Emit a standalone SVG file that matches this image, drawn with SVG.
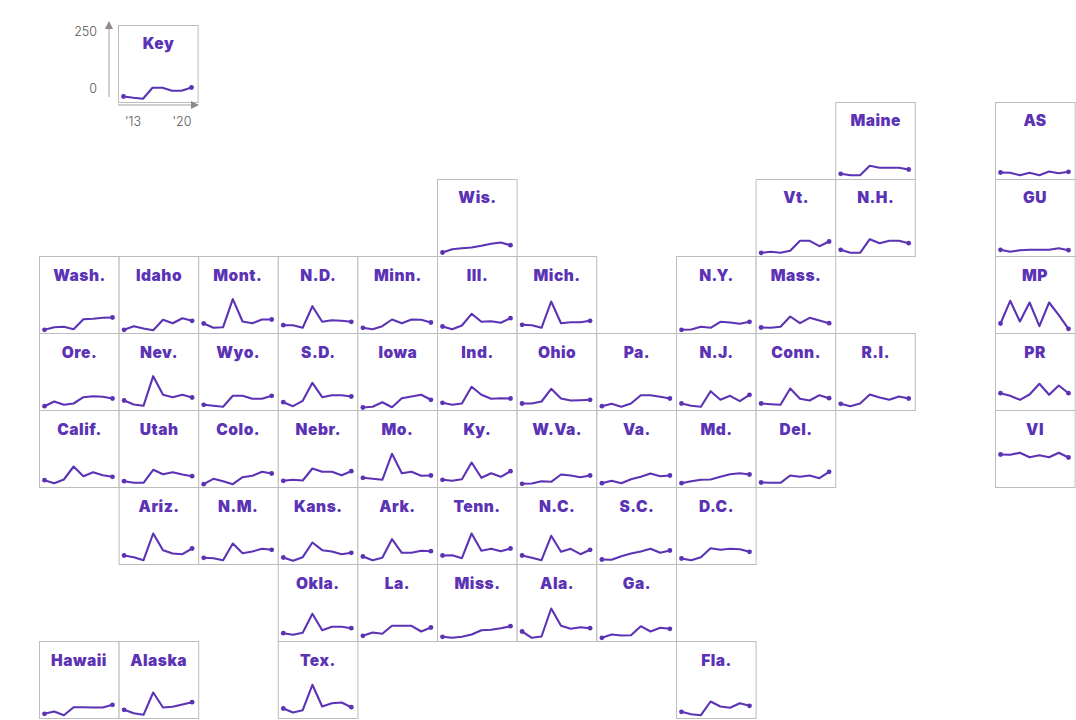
<svg xmlns="http://www.w3.org/2000/svg" width="1076" height="720" viewBox="0 0 1076 720">
<style>
text{font-family:Inter,"Liberation Sans",sans-serif}
.cell{fill:#fff;stroke:#bdbdbd;stroke-width:1}
.name{font-size:15.5px;font-weight:900;letter-spacing:.5px;fill:#5b33b4;text-anchor:middle}
.line{fill:none;stroke:#5b33b4;stroke-width:2.1;stroke-linejoin:round;marker-start:url(#dot);marker-end:url(#dot)}
.axis{fill:none;stroke:#a0a0a0;stroke-width:1;}
.tick{font-size:12.5px;font-weight:300;fill:#555}
</style>
<defs>
<marker id="dot" markerUnits="userSpaceOnUse" markerWidth="6" markerHeight="6" refX="3" refY="3"><circle cx="3" cy="3" r="2.4" fill="#5b33b4"/></marker>
<marker id="arr" markerUnits="userSpaceOnUse" markerWidth="9" markerHeight="8" refX="7" refY="4" orient="auto"><path d="M0 0L8 4L0 8Z" fill="#8c8c8c"/></marker>
<symbol id="c" overflow="visible"><rect class="cell" width="79.6" height="77"/></symbol>
</defs>
<g id="key" transform="translate(118.5 25.5)"><use href="#c"/><text class="name" x="40" y="23.5">Key</text><polyline class="line" points="5,71 15,72.3 24.5,73.3 34,62.3 44,62.3 53.5,65.3 63,65.3 73,62"/></g>
<g id="key-axes"><path class="axis" d="M109 97V22" marker-end="url(#arr)"/><path class="axis" d="M118 105H198" marker-end="url(#arr)"/>
<text class="tick" x="97" y="36" text-anchor="end">250</text><text class="tick" x="97" y="93" text-anchor="end">0</text><text class="tick" x="133" y="126" text-anchor="middle">'13</text><text class="tick" x="182" y="126" text-anchor="middle">'20</text></g>
<g id="AS" transform="translate(995.5 102.5)"><use href="#c"/><text class="name" x="39.5" y="23.5">AS</text><polyline class="line" points="5,70 14.7,70.3 24.4,72.7 34.1,70.3 43.9,72.7 53.6,69 63.3,70.7 73,69.3"/></g>
<g id="Maine" transform="translate(835.7 102.5)"><use href="#c"/><text class="name" x="40" y="23.5">Maine</text><polyline class="line" points="5,71.3 14.7,72.7 24.4,72.7 34.1,63.3 43.9,65.3 53.6,65.3 63.3,65.3 73,67"/></g>
<g id="Wis" transform="translate(437.5 179.5)"><use href="#c"/><text class="name" x="40" y="23.5">Wis.</text><polyline class="line" points="5,73 14.7,69.7 24.4,68.7 34.1,68 43.9,66.3 53.6,64.3 63.3,63 73,65.7"/></g>
<g id="Vt" transform="translate(756.1 179.5)"><use href="#c"/><text class="name" x="40" y="23.5">Vt.</text><polyline class="line" points="5,73.3 14.7,72.3 24.4,73.3 34.1,71.3 43.9,61.3 53.6,61.3 63.3,66.7 73,62"/></g>
<g id="NH" transform="translate(835.7 179.5)"><use href="#c"/><text class="name" x="40" y="23.5">N.H.</text><polyline class="line" points="5,70.3 14.7,73.3 24.4,73.3 34.1,59.7 43.9,63.7 53.6,61.3 63.3,61.3 73,63.7"/></g>
<g id="GU" transform="translate(995.5 179.5)"><use href="#c"/><text class="name" x="39.5" y="23.5">GU</text><polyline class="line" points="5,70.3 14.7,72.3 24.4,70.7 34.1,70.3 43.9,70.3 53.6,70.3 63.3,68.7 73,70.7"/></g>
<g id="Wash" transform="translate(39.5 256.5)"><use href="#c"/><text class="name" x="40" y="24">Wash.</text><polyline class="line" points="5,73.3 14.7,70.7 24.4,70.3 34.1,72.7 43.9,62.7 53.6,62.3 63.3,61.3 73,61"/></g>
<g id="Idaho" transform="translate(119.1 256.5)"><use href="#c"/><text class="name" x="40" y="24">Idaho</text><polyline class="line" points="5,73.3 14.7,69.7 24.4,72 34.1,73.7 43.9,63.3 53.6,66.7 63.3,61.7 73,64.3"/></g>
<g id="Mont" transform="translate(198.7 256.5)"><use href="#c"/><text class="name" x="39" y="24">Mont.</text><polyline class="line" points="5,67 14.7,71.3 24.4,70.7 34.1,42.7 43.9,65 53.6,66.7 63.3,63 73,63"/></g>
<g id="ND" transform="translate(278.3 256.5)"><use href="#c"/><text class="name" x="40" y="24">N.D.</text><polyline class="line" points="5,68.7 14.7,68.7 24.4,71.3 34.1,49.7 43.9,65.3 53.6,63.7 63.3,64.3 73,65.3"/></g>
<g id="Minn" transform="translate(357.9 256.5)"><use href="#c"/><text class="name" x="40" y="24">Minn.</text><polyline class="line" points="5,71.3 14.7,72.7 24.4,69.7 34.1,63 43.9,66.7 53.6,63 63.3,63.3 73,66"/></g>
<g id="Ill" transform="translate(437.5 256.5)"><use href="#c"/><text class="name" x="40" y="24">Ill.</text><polyline class="line" points="5,70 14.7,72.7 24.4,69 34.1,57.3 43.9,65.3 53.6,64.7 63.3,66.3 73,61.7"/></g>
<g id="Mich" transform="translate(517.1 256.5)"><use href="#c"/><text class="name" x="40" y="24">Mich.</text><polyline class="line" points="5,68.3 14.7,68.7 24.4,71.3 34.1,45 43.9,66.7 53.6,65.7 63.3,65.7 73,64.3"/></g>
<g id="NY" transform="translate(676.5 256.5)"><use href="#c"/><text class="name" x="40" y="24">N.Y.</text><polyline class="line" points="5,73.3 14.7,73 24.4,70.3 34.1,71.3 43.9,65.3 53.6,66 63.3,67.3 73,65.3"/></g>
<g id="Mass" transform="translate(756.1 256.5)"><use href="#c"/><text class="name" x="40" y="24">Mass.</text><polyline class="line" points="5,71 14.7,71.3 24.4,70.3 34.1,60 43.9,66.7 53.6,61.3 63.3,64 73,66.7"/></g>
<g id="MP" transform="translate(995.5 256.5)"><use href="#c"/><text class="name" x="39.5" y="24">MP</text><polyline class="line" points="5,67 14.7,44.3 24.4,65 34.1,46 43.9,69.7 53.6,46 63.3,58.7 73,72.3"/></g>
<g id="Ore" transform="translate(39.5 333.5)"><use href="#c"/><text class="name" x="40" y="24">Ore.</text><polyline class="line" points="5,72.7 14.7,68 24.4,71.3 34.1,70 43.9,63.7 53.6,62.7 63.3,63.3 73,65"/></g>
<g id="Nev" transform="translate(119.1 333.5)"><use href="#c"/><text class="name" x="40" y="24">Nev.</text><polyline class="line" points="5,67 14.7,71 24.4,72.3 34.1,42.7 43.9,61.3 53.6,63.7 63.3,61.3 73,64"/></g>
<g id="Wyo" transform="translate(198.7 333.5)"><use href="#c"/><text class="name" x="39.5" y="24">Wyo.</text><polyline class="line" points="5,71.3 14.7,72.3 24.4,73.3 34.1,62.3 43.9,62.3 53.6,65.3 63.3,65.3 73,62.3"/></g>
<g id="SD" transform="translate(278.3 333.5)"><use href="#c"/><text class="name" x="40" y="24">S.D.</text><polyline class="line" points="5,68.7 14.7,72.7 24.4,67.3 34.1,49.3 43.9,63.7 53.6,61.7 63.3,61.7 73,63"/></g>
<g id="Iowa" transform="translate(357.9 333.5)"><use href="#c"/><text class="name" x="40" y="24">Iowa</text><polyline class="line" points="5,74 14.7,73.3 24.4,68.7 34.1,73.7 43.9,64.7 53.6,63 63.3,61.3 73,66.3"/></g>
<g id="Ind" transform="translate(437.5 333.5)"><use href="#c"/><text class="name" x="40" y="24">Ind.</text><polyline class="line" points="5,69.3 14.7,71.3 24.4,70 34.1,53.3 43.9,61.3 53.6,65.3 63.3,64.7 73,65"/></g>
<g id="Ohio" transform="translate(517.1 333.5)"><use href="#c"/><text class="name" x="40" y="24">Ohio</text><polyline class="line" points="5,70 14.7,70 24.4,68 34.1,55.3 43.9,65 53.6,67 63.3,66.7 73,66.3"/></g>
<g id="Pa" transform="translate(596.9 333.5)"><use href="#c"/><text class="name" x="40" y="24">Pa.</text><polyline class="line" points="5,72.7 14.7,70.3 24.4,73.3 34.1,70 43.9,61.7 53.6,61.7 63.3,63.3 73,65"/></g>
<g id="NJ" transform="translate(676.5 333.5)"><use href="#c"/><text class="name" x="40" y="24">N.J.</text><polyline class="line" points="5,70 14.7,72.3 24.4,73.3 34.1,57.7 43.9,66.3 53.6,62.3 63.3,67.7 73,61.3"/></g>
<g id="Conn" transform="translate(756.1 333.5)"><use href="#c"/><text class="name" x="40" y="24">Conn.</text><polyline class="line" points="5,70 14.7,70.7 24.4,71.3 34.1,55 43.9,65.3 53.6,67 63.3,61.7 73,64.7"/></g>
<g id="RI" transform="translate(835.7 333.5)"><use href="#c"/><text class="name" x="40" y="24">R.I.</text><polyline class="line" points="5,70.3 14.7,72.7 24.4,70 34.1,61 43.9,64 53.6,66.3 63.3,63 73,65"/></g>
<g id="PR" transform="translate(995.5 333.5)"><use href="#c"/><text class="name" x="39.5" y="24">PR</text><polyline class="line" points="5,59.7 14.7,62.3 24.4,66.3 34.1,61 43.9,50.3 53.6,61.3 63.3,52 73,59.7"/></g>
<g id="Calif" transform="translate(39.5 410.5)"><use href="#c"/><text class="name" x="40" y="24">Calif.</text><polyline class="line" points="5,69.7 14.7,72.7 24.4,69 34.1,56 43.9,65.7 53.6,61.7 63.3,64.7 73,66.3"/></g>
<g id="Utah" transform="translate(119.1 410.5)"><use href="#c"/><text class="name" x="40" y="24">Utah</text><polyline class="line" points="5,70.7 14.7,72.3 24.4,72.3 34.1,59.3 43.9,63.7 53.6,61.7 63.3,64 73,65.7"/></g>
<g id="Colo" transform="translate(198.7 410.5)"><use href="#c"/><text class="name" x="39.5" y="24">Colo.</text><polyline class="line" points="5,73.7 14.7,68.3 24.4,70.7 34.1,73.7 43.9,66.7 53.6,65.3 63.3,61.3 73,63"/></g>
<g id="Nebr" transform="translate(278.3 410.5)"><use href="#c"/><text class="name" x="40" y="24">Nebr.</text><polyline class="line" points="5,70.3 14.7,69.3 24.4,70 34.1,58 43.9,61.3 53.6,61.3 63.3,64.7 73,60.7"/></g>
<g id="Mo" transform="translate(357.9 410.5)"><use href="#c"/><text class="name" x="39.5" y="24">Mo.</text><polyline class="line" points="5,67.3 14.7,68.3 24.4,69.3 34.1,43.3 43.9,62.7 53.6,61.3 63.3,65.3 73,65"/></g>
<g id="Ky" transform="translate(437.5 410.5)"><use href="#c"/><text class="name" x="40" y="24">Ky.</text><polyline class="line" points="5,69.3 14.7,70.3 24.4,68.7 34.1,52 43.9,67.3 53.6,62.7 63.3,66.3 73,60.7"/></g>
<g id="WVa" transform="translate(517.1 410.5)"><use href="#c"/><text class="name" x="40" y="24">W.Va.</text><polyline class="line" points="5,73.3 14.7,73 24.4,70.7 34.1,71.3 43.9,64 53.6,65 63.3,66.7 73,65"/></g>
<g id="Va" transform="translate(596.9 410.5)"><use href="#c"/><text class="name" x="40" y="24">Va.</text><polyline class="line" points="5,72.7 14.7,70.3 24.4,72.7 34.1,68.7 43.9,66.3 53.6,63 63.3,65.7 73,65"/></g>
<g id="Md" transform="translate(676.5 410.5)"><use href="#c"/><text class="name" x="40" y="24">Md.</text><polyline class="line" points="5,72.7 14.7,70.7 24.4,69.3 34.1,69 43.9,66.3 53.6,63.7 63.3,62.7 73,64"/></g>
<g id="Del" transform="translate(756.1 410.5)"><use href="#c"/><text class="name" x="40" y="24">Del.</text><polyline class="line" points="5,72 14.7,72.3 24.4,72.3 34.1,65 43.9,66.3 53.6,65 63.3,67.7 73,61.3"/></g>
<g id="VI" transform="translate(995.5 410.5)"><use href="#c"/><text class="name" x="39.5" y="24">VI</text><polyline class="line" points="5,44 14.7,44.3 24.4,42.3 34.1,46.7 43.9,44.7 53.6,46.7 63.3,42.3 73,47"/></g>
<g id="Ariz" transform="translate(119.1 487.5)"><use href="#c"/><text class="name" x="40" y="24">Ariz.</text><polyline class="line" points="5,68 14.7,69.7 24.4,72.7 34.1,46 43.9,62.7 53.6,66 63.3,66.7 73,61"/></g>
<g id="NM" transform="translate(198.7 487.5)"><use href="#c"/><text class="name" x="39.5" y="24">N.M.</text><polyline class="line" points="5,70.3 14.7,70.7 24.4,72.7 34.1,56 43.9,65.7 53.6,64 63.3,61.3 73,62.3"/></g>
<g id="Kans" transform="translate(278.3 487.5)"><use href="#c"/><text class="name" x="40" y="24">Kans.</text><polyline class="line" points="5,70 14.7,73.3 24.4,69.7 34.1,55 43.9,62.7 53.6,64 63.3,66.7 73,65.3"/></g>
<g id="Ark" transform="translate(357.9 487.5)"><use href="#c"/><text class="name" x="39.5" y="24">Ark.</text><polyline class="line" points="5,69 14.7,72.7 24.4,70.3 34.1,51.7 43.9,65.3 53.6,65.3 63.3,63.3 73,63.7"/></g>
<g id="Tenn" transform="translate(437.5 487.5)"><use href="#c"/><text class="name" x="39.5" y="24">Tenn.</text><polyline class="line" points="5,68 14.7,67.7 24.4,70.7 34.1,46 43.9,63.3 53.6,61.3 63.3,63.7 73,61"/></g>
<g id="NC" transform="translate(517.1 487.5)"><use href="#c"/><text class="name" x="40" y="24">N.C.</text><polyline class="line" points="5,68 14.7,70.3 24.4,72.7 34.1,48.3 43.9,64.3 53.6,61.3 63.3,66.7 73,62.3"/></g>
<g id="SC" transform="translate(596.9 487.5)"><use href="#c"/><text class="name" x="40" y="24">S.C.</text><polyline class="line" points="5,72 14.7,72.3 24.4,68.7 34.1,66 43.9,64 53.6,61.3 63.3,65.3 73,63"/></g>
<g id="DC" transform="translate(676.5 487.5)"><use href="#c"/><text class="name" x="40" y="24">D.C.</text><polyline class="line" points="5,71 14.7,72.7 24.4,69.7 34.1,60.7 43.9,62.3 53.6,61.3 63.3,61.7 73,64.3"/></g>
<g id="Okla" transform="translate(278.3 564.5)"><use href="#c"/><text class="name" x="39.5" y="24">Okla.</text><polyline class="line" points="5,68.7 14.7,70.3 24.4,68.3 34.1,49.3 43.9,65.7 53.6,62.3 63.3,62.3 73,63.7"/></g>
<g id="La" transform="translate(357.9 564.5)"><use href="#c"/><text class="name" x="39.5" y="24">La.</text><polyline class="line" points="5,71.3 14.7,68 24.4,69.3 34.1,61.3 43.9,61.3 53.6,61.3 63.3,67 73,63"/></g>
<g id="Miss" transform="translate(437.5 564.5)"><use href="#c"/><text class="name" x="40" y="24">Miss.</text><polyline class="line" points="5,72.3 14.7,73.3 24.4,72.3 34.1,70 43.9,65.7 53.6,65.3 63.3,63.7 73,61.7"/></g>
<g id="Ala" transform="translate(517.1 564.5)"><use href="#c"/><text class="name" x="40" y="24">Ala.</text><polyline class="line" points="5,67 14.7,73.3 24.4,72 34.1,44 43.9,61.3 53.6,64.3 63.3,62.7 73,63.7"/></g>
<g id="Ga" transform="translate(596.9 564.5)"><use href="#c"/><text class="name" x="40" y="24">Ga.</text><polyline class="line" points="5,73.3 14.7,70 24.4,71 34.1,70.7 43.9,61.7 53.6,67 63.3,63.3 73,64.3"/></g>
<g id="Hawaii" transform="translate(39.5 641.5)"><use href="#c"/><text class="name" x="39.5" y="24">Hawaii</text><polyline class="line" points="5,72.3 14.7,70 24.4,73.7 34.1,65.7 43.9,65.7 53.6,66 63.3,66 73,63.3"/></g>
<g id="Alaska" transform="translate(119.1 641.5)"><use href="#c"/><text class="name" x="39.5" y="24">Alaska</text><polyline class="line" points="5,68.3 14.7,71.7 24.4,73.3 34.1,51 43.9,66 53.6,65.3 63.3,63 73,60.7"/></g>
<g id="Tex" transform="translate(278.3 641.5)"><use href="#c"/><text class="name" x="39.5" y="24">Tex.</text><polyline class="line" points="5,67 14.7,71 24.4,68.7 34.1,43.3 43.9,65 53.6,61.7 63.3,61 73,65.7"/></g>
<g id="Fla" transform="translate(676.5 641.5)"><use href="#c"/><text class="name" x="40" y="24">Fla.</text><polyline class="line" points="5,70.3 14.7,72.7 24.4,73.7 34.1,60 43.9,65 53.6,66.3 63.3,61.7 73,64.3"/></g>
</svg>
